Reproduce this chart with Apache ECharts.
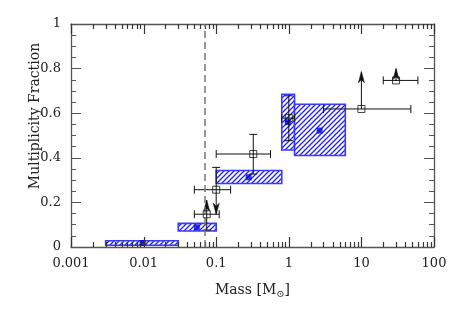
<!DOCTYPE html>
<html><head><meta charset="utf-8">
<script src="https://cdn.jsdelivr.net/npm/echarts@6/dist/echarts.min.js"></script>
<style>html,body{margin:0;padding:0;background:#fff}#c{width:458px;height:314px}</style>
</head><body><div id="c"></div>
<script>
// ---- data ----
// hatched boxes (mass range x fraction range) with their central points
const boxXlo = [0.003, 0.03, 0.1, 0.8, 1.2];
const boxXhi = [0.03, 0.1, 0.8, 1.2, 6.0];
const boxYlo = [0.008, 0.072, 0.285, 0.435, 0.41];
const boxYhi = [0.028, 0.106, 0.343, 0.685, 0.64];
const ptX = [0.0097, 0.054, 0.28, 0.97, 2.66];
const ptY = [0.018, 0.088, 0.313, 0.56, 0.522];
// open squares with error bars / limit arrows
const errX   = [0.074, 0.1,   0.324, 1.0,   10,    30];
const errY   = [0.147, 0.257, 0.417, 0.578, 0.619, 0.747];
const errXlo = [0.05,  0.05,  0.1,   0.8,   3,     20];
const errXhi = [0.11,  0.158, 0.56,  1.2,   48,    60];
const errYlo = [0.076, null,  0.327, 0.477, null,  null];
const errYhi = [null,  0.357, 0.505, 0.678, null,  null];
const errArrow = [0.21, 0.147, null, null, 0.786, 0.80];
const limitMass = 0.075;
// axis ticks
const xTickLabels = ['0.001', '0.01', '0.1', '1', '10', '100'];
const yTickLabels = ['0', '0.2', '0.4', '0.6', '0.8', '1'];
const decades = [0.001, 0.01, 0.1, 1, 10];
const minorMult = [2, 3, 4, 5, 6, 7, 8, 9];

const FONT = '"DejaVu Serif", serif';
const AX = '#555';

function hatch() {
  const s = 5, c = document.createElement('canvas');
  c.width = s; c.height = s;
  const g = c.getContext('2d');
  g.fillStyle = '#fff'; g.fillRect(0, 0, s, s);
  g.strokeStyle = '#2020ff'; g.lineWidth = 1.3;
  g.beginPath();
  g.moveTo(-1, s + 1); g.lineTo(s + 1, -1);
  g.moveTo(-1, 1); g.lineTo(1, -1);
  g.moveTo(s - 1, s + 1); g.lineTo(s + 1, s - 1);
  g.stroke();
  return c;
}
const pattern = { image: hatch(), repeat: 'repeat' };

const boxData = boxXlo.map((v, i) => [v, boxXhi[i], boxYlo[i], boxYhi[i]]);
const errData = errX.map((v, i) => [v, errY[i], errXlo[i], errXhi[i],
  errYlo[i] == null ? NaN : errYlo[i], errYhi[i] == null ? NaN : errYhi[i],
  errArrow[i] == null ? NaN : errArrow[i]]);
const majorX = xTickLabels.map(Number);
const minorX = [];
decades.forEach(d => minorMult.forEach(m => minorX.push(+(d * m).toPrecision(3))));

const chart = echarts.init(document.getElementById('c'), null, { renderer: 'canvas' });

function xAx(pos, show) {
  return {
    type: 'log', logBase: 10, min: 0.001, max: 100, position: pos,
    axisLine: { show: true, onZero: false, lineStyle: { color: AX, width: 1.3 } },
    axisTick: { show: false },
    minorTick: { show: false }, splitLine: { show: false },
    axisLabel: show ? {
      show: true, margin: 10, fontFamily: FONT, fontSize: 13, color: '#222',
      formatter: v => { const k = Math.round(Math.log10(v)) + 3; return xTickLabels[k] || ''; }
    } : { show: false },
    name: show ? 'Mass [M{s|⊙}]' : '', nameLocation: 'middle', nameGap: 34,
    nameTextStyle: { fontFamily: FONT, fontSize: 14, color: '#222',
      rich: { s: { fontFamily: FONT, fontSize: 10, verticalAlign: 'bottom', padding: [8, 0, 0, 0], color: '#222' } } }
  };
}
function yAx(pos, show) {
  return {
    type: 'value', min: 0, max: 1, interval: 0.2, position: pos,
    axisLine: { show: true, lineStyle: { color: AX, width: 1.3 } },
    axisTick: { show: true, inside: true, length: 10, lineStyle: { color: AX, width: 1 } },
    minorTick: { show: true, splitNumber: 4, length: 5, lineStyle: { color: AX, width: 1 } },
    splitLine: { show: false }, minorSplitLine: { show: false },
    axisLabel: show ? {
      show: true, margin: 10, fontFamily: FONT, fontSize: 13, color: '#222',
      formatter: v => yTickLabels[Math.round(v * 5)]
    } : { show: false }
  };
}

const option = {
  animation: false,
  backgroundColor: '#fff',
  grid: { left: 71, right: 24, top: 24, bottom: 67 },
  xAxis: [xAx('bottom', true), xAx('top', false)],
  yAxis: [yAx('left', true), yAx('right', false)],
  graphic: [{
    type: 'text', x: 35, y: 116, rotation: Math.PI / 2,
    style: { text: 'Multiplicity Fraction', fontFamily: FONT, fontSize: 14, fill: '#222',
      textAlign: 'center', textVerticalAlign: 'middle' }
  }],
  series: [
    { // hatched boxes
      type: 'custom', data: boxData, encode: { x: [0, 1], y: [2, 3] }, z: 2,
      renderItem: (params, api) => {
        const p1 = api.coord([api.value(0), api.value(3)]);
        const p2 = api.coord([api.value(1), api.value(2)]);
        return { type: 'rect', shape: { x: p1[0], y: p1[1], width: p2[0] - p1[0], height: p2[1] - p1[1] },
          style: { fill: pattern, stroke: '#3a3aff', lineWidth: 1.6 } };
      },
      markLine: {
        silent: true, symbol: 'none', label: { show: false },
        lineStyle: { color: '#777', type: [7, 4], width: 1.5 },
        data: [{ xAxis: limitMass }]
      }
    },
    { // box central points
      type: 'scatter', data: ptX.map((v, i) => [v, ptY[i]]), symbol: 'rect', symbolSize: 6, z: 3,
      itemStyle: { color: '#0000e0' }
    },
    { // error bars and limit arrows (+ log-axis ticks drawn with the first item)
      type: 'custom', clip: false, data: errData, encode: { x: [0, 2, 3], y: [1] }, z: 4,
      renderItem: (params, api) => {
        const st = { stroke: '#111', lineWidth: 1 };
        const x = api.value(0), y = api.value(1);
        const c = api.coord([x, y]);
        const xl = api.coord([api.value(2), y]), xh = api.coord([api.value(3), y]);
        const ch = [];
        if (params.dataIndex === 0) {
          const tk = { stroke: '#333', lineWidth: 1.2 };
          const addTick = (v, len) => {
            const b = api.coord([v, 0]), t = api.coord([v, 1]);
            const px = Math.round(b[0]) + 0.5;
            ch.push({ type: 'line', shape: { x1: px, y1: b[1], x2: px, y2: b[1] - len }, style: tk });
            ch.push({ type: 'line', shape: { x1: px, y1: t[1], x2: px, y2: t[1] + len }, style: tk });
          };
          majorX.forEach(v => addTick(v, 10));
          minorX.forEach(v => addTick(v, 5));
        }
        ch.push({ type: 'line', shape: { x1: xl[0], y1: c[1], x2: xh[0], y2: c[1] }, style: st });
        ch.push({ type: 'line', shape: { x1: xl[0], y1: c[1] - 4, x2: xl[0], y2: c[1] + 4 }, style: st });
        ch.push({ type: 'line', shape: { x1: xh[0], y1: c[1] - 4, x2: xh[0], y2: c[1] + 4 }, style: st });
        [api.value(4), api.value(5)].forEach(v => {
          if (!isNaN(v)) {
            const p = api.coord([x, v]);
            ch.push({ type: 'line', shape: { x1: c[0], y1: c[1], x2: c[0], y2: p[1] }, style: st });
            ch.push({ type: 'line', shape: { x1: c[0] - 4, y1: p[1], x2: c[0] + 4, y2: p[1] }, style: st });
          }
        });
        const a = api.value(6);
        if (!isNaN(a)) {
          const p = api.coord([x, a]);
          const dir = p[1] < c[1] ? 1 : -1; // 1 = pointing up
          ch.push({ type: 'line', shape: { x1: c[0], y1: c[1], x2: c[0], y2: p[1] }, style: st });
          ch.push({ type: 'polygon', shape: { points: [
            [c[0], p[1]], [c[0] - 3, p[1] + dir * 11], [c[0], p[1] + dir * 8], [c[0] + 3, p[1] + dir * 11]] },
            style: { fill: '#111', stroke: '#111', lineWidth: 0.6 } });
        }
        return { type: 'group', children: ch };
      }
    },
    { // open squares
      type: 'scatter', data: errX.map((v, i) => [v, errY[i]]), symbol: 'rect', symbolSize: 7, z: 5,
      itemStyle: { color: 'rgba(255,255,255,0)', borderColor: '#111', borderWidth: 1 }
    }
  ]
};
chart.setOption(option);
</script>
</body></html>
